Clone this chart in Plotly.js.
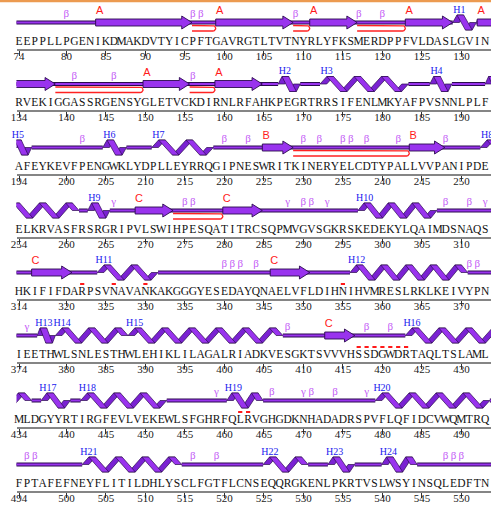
<!DOCTYPE html>
<html><head><meta charset="utf-8">
<script src="https://cdn.plot.ly/plotly-3.0.1.min.js"></script>
<style>html,body{margin:0;padding:0;background:#fff;}#chart{width:491px;height:508px;}</style>
</head><body><div id="chart"></div>
<script>
// ---------- data ----------
const rowStarts = [74, 134, 194, 254, 314, 374, 434, 494];
const rowCenters = [22.5, 84, 147.5, 210.5, 272.5, 335.5, 400.5, 464.5];
const sequenceRows = [
  "EEPPLLPGENIKDMAKDVTYICPFTGAVRGTLTVTNYRLYFKSMERDPPFVLDASLGVIN",
  "RVEKIGGASSRGENSYGLETVCKDIRNLRFAHKPEGRTRRSIFENLMKYAFPVSNNLPLF",
  "AFEYKEVFPENGWKLYDPLLEYRRQGIPNESWRITKINERYELCDTYPALLVVPANIPDE",
  "ELKRVASFRSRGRIPVLSWIHPESQATITRCSQPMVGVSGKRSKEDEKYLQAIMDSNAQS",
  "HKIFIFDARPSVNAVANKAKGGGYESEDAYQNAELVFLDIHNIHVMRESLRKLKEIVYPN",
  "IEETHWLSNLESTHWLEHIKLILAGALRIADKVESGKTSVVVHSSDGWDRTAQLTSLAML",
  "MLDGYYRTIRGFEVLVEKEWLSFGHRFQLRVGHGDKNHADADRSPVFLQFIDCVWQMTRQ",
  "FPTAFEFNEYFLITILDHLYSCLFGTFLCNSEQQRGKENLPKRTVSLWSYINSQLEDFTN"
];
const strandStart = [83.7, 98.9, 110.8, 122.9, 132.0, 149.7, 158.8, 224.8, 243.4, 268.7, 279.8, 315.6, 345.8, 412.7];
const strandEnd   = [95.9, 108.7, 116.8, 128.9, 138.6, 155.6, 164.8, 228.7, 247.9, 273.5, 284.8, 320.7, 350.8, 416.5];
const strandSheet = ["A","A","A","A","A","A","A","B","B","C","C","C","C","C"];
const helixStart = [128.9,166.8,172.1,186.0,193.0,204.6,210.8,252.4,262.7,296.9,323.9,355.9,376.3,378.6,387.8,422.9,436.8,441.8,460.3,479.1,502.0,524.9,533.1,539.9];
const helixEnd   = [131.9,169.6,183.3,188.8,195.6,207.6,218.6,261.6,265.5,306.9,331.6,370.8,378.6,387.8,407.4,435.6,440.5,452.7,464.9,493.6,514.6,530.6,536.5,544.4];
const helixNames = ["H1","H2","H3","H4","H5","H6","H7","H8","H9","H10","H11","H12","H13","H14","H15","H16","H17","H18","H19","H20","H21","H22","H23","H24"];
const hairpinStart = [95.9, 108.7, 116.8, 138.6, 155.6, 228.7, 273.5];
const hairpinEnd   = [98.9, 110.8, 122.9, 149.7, 158.8, 243.4, 279.8];
const betaTurns = [80,96,97,109,117,120,141,146,156,202,220,223,230,232,235,236,238,242,248,275,276,290,291,308,311,340,341,342,344,371,372,408,418,421,466,471,474,495,496,516,519,548,549,550];
const gammaTurns = [266,288,293,313,375,459,470,478];
const markedResidues = [322,326,330,355,417,418,419,420,421,422,423,462,463];

// ---------- drawing ----------
const W = 491, H = 508;
const PXR = 7.9, X0 = 19, D0 = 16.5;
const PURPLE = "#9933ee", PURPLE_BACK = "#7a22d2", EDGE = "#2b0b4f";
const traces = [];
const layout = {
  width: W, height: H, margin: {l:0, r:0, t:0, b:0},
  paper_bgcolor: "#fff", plot_bgcolor: "#fff", showlegend: false,
  yaxis: {range: [H, 0], domain: [0, 1], visible: false, fixedrange: true},
  shapes: [{type: "rect", xref: "paper", yref: "y", x0: 0, x1: 1, y0: 0, y1: 2.2,
            fillcolor: "#ec9a50", line: {width: 0}, layer: "above"}]
};

function overlaps(a, b, lo, hi) { return b >= lo && a <= hi; }

rowStarts.forEach((s, r) => {
  const xa = r === 0 ? "x" : "x" + (r + 1);
  const axKey = r === 0 ? "xaxis" : "xaxis" + (r + 1);
  const c = rowCenters[r];
  const lo = s - 0.4, hi = s + 61;
  const tickvals = [s];
  for (let v = Math.ceil((s + 2) / 5) * 5; v <= s + 59; v += 5) tickvals.push(v);
  layout[axKey] = {
    domain: [D0 / W, 1], range: [s - (X0 - D0) / PXR, s + (W - X0) / PXR],
    anchor: "free", position: 1 - (c + 27) / H,
    showline: true, linecolor: "#858585", linewidth: 2,
    ticks: "outside", ticklen: 5, tickwidth: 1, tickcolor: "#333",
    tickvals: tickvals, ticktext: tickvals.map(String), ticklabelstandoff: -9,
    tickfont: {family: "Liberation Serif", size: 11, color: "#222"},
    showgrid: false, zeroline: false, fixedrange: true
  };
  if (r > 0) layout[axKey].overlaying = "x";

  // coil = row minus helices
  let segs = [[lo, hi]];
  helixStart.forEach((a, i) => {
    const b = helixEnd[i];
    const next = [];
    segs.forEach(([p, q]) => {
      if (b <= p || a >= q) { next.push([p, q]); return; }
      if (a > p) next.push([p, a]);
      if (b < q) next.push([b, q]);
    });
    segs = next;
  });
  const cx = [], cy = [];
  segs.forEach(([p, q]) => { cx.push(p, q, null); cy.push(c, c, null); });
  traces.push({x: cx, y: cy, xaxis: xa, yaxis: "y", mode: "lines", line: {color: EDGE, width: 4}, hoverinfo: "skip"});
  traces.push({x: cx, y: cy, xaxis: xa, yaxis: "y", mode: "lines", line: {color: PURPLE, width: 2}, hoverinfo: "skip"});

  // hairpins (red)
  const hx = [], hy = [];
  hairpinStart.forEach((a, i) => {
    const b = hairpinEnd[i];
    if (!overlaps(a, b, lo - 2, hi)) return;
    const rad = 2.75, yc = c + 5.75, xr = b - rad / PXR;
    hx.push(a, xr); hy.push(c + 3, c + 3);
    for (let k = 1; k < 12; k++) {
      const t = -Math.PI / 2 + Math.PI * k / 12;
      hx.push(xr + rad * Math.cos(t) / PXR); hy.push(yc + rad * Math.sin(t));
    }
    hx.push(xr, a, null); hy.push(c + 8.5, c + 8.5, null);
  });
  if (hx.length) traces.push({x: hx, y: hy, xaxis: xa, yaxis: "y", mode: "lines", line: {color: "#ff2222", width: 1.3}, hoverinfo: "skip"});

  // strands
  const sx = [], sy = [];
  const lx = [], ly = [], lt = [];
  strandStart.forEach((a, i) => {
    const b = strandEnd[i];
    if (!overlaps(a, b, lo - 2, hi)) return;
    const hb = b - Math.min(1.3, (b - a) * 0.5);
    sx.push(a, hb, hb, b, hb, hb, a, a, null);
    sy.push(c - 3.5, c - 3.5, c - 6.5, c, c + 6.5, c + 3.5, c + 3.5, c - 3.5, null);
    const labx = a + 0.5;
    if (labx >= s - 0.5 && labx < s + 60) { lx.push(labx); ly.push(c - 11); lt.push(strandSheet[i]); }
  });
  if (sx.length) traces.push({x: sx, y: sy, xaxis: xa, yaxis: "y", mode: "lines", fill: "toself",
    fillcolor: PURPLE, line: {color: EDGE, width: 0.9}, hoverinfo: "skip"});

  // helices
  const bx = [], by = [], fx = [], fy = [];
  const hlx = [], hly = [], hlt = [];
  helixStart.forEach((a, i) => {
    const b = helixEnd[i];
    if (!overlaps(a, b, lo - 2, hi)) return;
    const w = 0.85, A = 7.5;
    const k = Math.max(2, Math.round((b - a) / 1.75));
    const a2 = a + w / 2, b2 = b - w / 2, step = (b2 - a2) / k;
    const pts = [[a2, c]];
    for (let j = 0; j < k; j++) pts.push([a2 + (j + 0.5) * step, j % 2 === 0 ? c - A : c + A]);
    pts.push([b2, c]);
    for (let j = 0; j < pts.length - 1; j++) {
      const [x1, y1] = pts[j], [x2, y2] = pts[j + 1];
      const front = y2 > y1;
      const X = front ? fx : bx, Y = front ? fy : by;
      X.push(x1 - w / 2, x1 + w / 2, x2 + w / 2, x2 - w / 2, x1 - w / 2, null);
      Y.push(y1, y1, y2, y2, y1, null);
    }
    const labx = a + 0.85;
    if (labx >= s - 0.5 && labx < s + 60) { hlx.push(labx); hly.push(c - 12.5); hlt.push(helixNames[i]); }
  });
  if (bx.length) {
    traces.push({x: bx, y: by, xaxis: xa, yaxis: "y", mode: "lines", fill: "toself",
      fillcolor: PURPLE_BACK, line: {color: EDGE, width: 0.7}, hoverinfo: "skip"});
    traces.push({x: fx, y: fy, xaxis: xa, yaxis: "y", mode: "lines", fill: "toself",
      fillcolor: PURPLE, line: {color: EDGE, width: 0.7}, hoverinfo: "skip"});
  }

  // turn labels
  const tx = [], ty = [], tt = [];
  betaTurns.forEach(v => { if (v >= s && v < s + 60) { tx.push(v); ty.push(c - 8); tt.push("β"); } });
  gammaTurns.forEach(v => { if (v >= s && v < s + 60) { tx.push(v); ty.push(c - 8); tt.push("γ"); } });
  traces.push({x: tx, y: ty, text: tt, xaxis: xa, yaxis: "y", mode: "text", cliponaxis: false,
    textfont: {family: "Liberation Serif", size: 11, color: "#c45cf6"}, hoverinfo: "skip"});
  traces.push({x: lx, y: ly, text: lt, xaxis: xa, yaxis: "y", mode: "text", cliponaxis: false,
    textfont: {family: "Liberation Sans", size: 11, color: "#ff1a1a"}, hoverinfo: "skip"});
  traces.push({x: hlx, y: hly, text: hlt, xaxis: xa, yaxis: "y", mode: "text", cliponaxis: false,
    textfont: {family: "Liberation Serif", size: 10, color: "#2020ee"}, hoverinfo: "skip"});

  // sequence letters
  const letters = sequenceRows[r].split("");
  traces.push({x: letters.map((_, i) => s + i), y: letters.map(() => c + 19.5), text: letters,
    xaxis: xa, yaxis: "y", mode: "text", cliponaxis: false,
    textfont: {family: "Liberation Serif", size: 11.5, color: "#111"}, hoverinfo: "skip"});

  // marked residues
  const mx = markedResidues.filter(v => v >= s && v < s + 60);
  if (mx.length) traces.push({x: mx, y: mx.map(() => c + 11.5), xaxis: xa, yaxis: "y", mode: "markers",
    cliponaxis: false, marker: {symbol: "line-ew", size: 3, line: {color: "#ff1a1a", width: 2}}, hoverinfo: "skip"});
});

Plotly.newPlot("chart", traces, layout, {displayModeBar: false, staticPlot: true});
</script></body></html>
